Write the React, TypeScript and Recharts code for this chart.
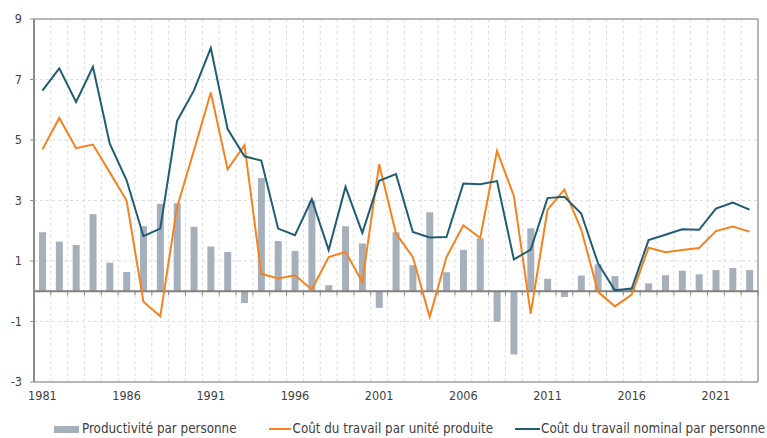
import {
  Bar,
  ComposedChart,
  CartesianGrid,
  Legend,
  Line,
  ReferenceLine,
  XAxis,
  YAxis,
} from 'recharts'

const years = [
  1981, 1982, 1983, 1984, 1985, 1986, 1987, 1988, 1989, 1990,
  1991, 1992, 1993, 1994, 1995, 1996, 1997, 1998, 1999, 2000,
  2001, 2002, 2003, 2004, 2005, 2006, 2007, 2008, 2009, 2010,
  2011, 2012, 2013, 2014, 2015, 2016, 2017, 2018, 2019, 2020,
  2021, 2022, 2023,
]

// Productivité par personne
const productivite = [
  1.95, 1.64, 1.53, 2.55, 0.94, 0.64, 2.15, 2.89, 2.91, 2.13,
  1.48, 1.3, -0.39, 3.74, 1.66, 1.33, 3.0, 0.2, 2.15, 1.58,
  -0.55, 1.95, 0.86, 2.61, 0.63, 1.37, 1.75, -1.01, -2.09, 2.08,
  0.41, -0.19, 0.52, 0.89, 0.5, 0.12, 0.26, 0.53, 0.68, 0.56,
  0.7, 0.77, 0.7,
]

// Coût du travail par unité produite
const coutUnitaire = [
  4.69, 5.73, 4.73, 4.85, 3.93, 3.0, -0.35, -0.83, 2.79, 4.65,
  6.57, 4.03, 4.83, 0.58, 0.42, 0.53, 0.06, 1.13, 1.3, 0.31,
  4.2, 1.91, 1.13, -0.85, 1.13, 2.18, 1.76, 4.64, 3.15, -0.74,
  2.7, 3.36, 2.04, -0.02, -0.5, -0.11, 1.44, 1.29, 1.36, 1.43,
  1.99, 2.14, 1.97,
]

// Coût du travail nominal par personne
const coutNominal = [
  6.63, 7.37, 6.26, 7.42, 4.88, 3.67, 1.82, 2.07, 5.63, 6.64,
  8.04, 5.36, 4.46, 4.32, 2.07, 1.85, 3.04, 1.36, 3.45, 1.93,
  3.65, 3.87, 1.96, 1.78, 1.79, 3.56, 3.54, 3.64, 1.05, 1.38,
  3.08, 3.12, 2.57, 0.92, 0.03, 0.09, 1.69, 1.87, 2.05, 2.03,
  2.73, 2.93, 2.7,
]

const yTicks = [-3, -1, 1, 3, 5, 7, 9]
const xTicks = [1981, 1986, 1991, 1996, 2001, 2006, 2011, 2016, 2021]

const data = years.map((year, i) => ({
  year,
  productivite: productivite[i],
  coutUnitaire: coutUnitaire[i],
  coutNominal: coutNominal[i],
}))

// limits between years, used for the dashed vertical grid and zero-line ticks
const boundaries = [years[0] - 0.5, ...years.map((y) => y + 0.5)]

const FONT = '"DejaVu Sans Condensed", "DejaVu Sans", sans-serif'
const BAR_COLOR = '#a6b0bd'
const ORANGE = '#f5821f'
const TEAL = '#1f5d73'
const GRID = '#dcdcdc'

function ChartLegend() {
  const item = (swatch: React.ReactNode, label: string, gap: number, after: number) => (
    <div style={{ display: 'flex', alignItems: 'center', marginRight: after }}>
      {swatch}
      <span style={{ marginLeft: gap }}>{label}</span>
    </div>
  )
  return (
    <div
      style={{
        height: 34,
        paddingTop: 20,
        paddingLeft: 54,
        boxSizing: 'border-box',
        display: 'flex',
        fontFamily: FONT,
        fontSize: 13.3,
        lineHeight: '16px',
        color: '#404040',
        whiteSpace: 'nowrap',
      }}
    >
      {item(<div style={{ width: 25, height: 7, background: BAR_COLOR }} />, 'Productivité par personne', 3, 32)}
      {item(<div style={{ width: 22, height: 2, background: ORANGE }} />, 'Coût du travail par unité produite', 2, 22)}
      {item(<div style={{ width: 25, height: 2, background: TEAL }} />, 'Coût du travail nominal par personne', 1, 0)}
    </div>
  )
}

export default function App() {
  return (
    <div style={{ position: 'absolute', left: 0, top: 0 }}>
      <ComposedChart
        width={767}
        height={438}
        data={data}
        margin={{ top: 19, right: 9, left: 0, bottom: 2 }}
      >
        <CartesianGrid vertical={false} stroke={GRID} strokeDasharray="3 3" />
        {boundaries.map((b) => (
          <ReferenceLine key={`g${b}`} x={b} stroke={GRID} strokeDasharray="3 3" />
        ))}
        <XAxis
          dataKey="year"
          type="number"
          domain={[years[0] - 0.5, years[years.length - 1] + 0.5]}
          ticks={xTicks}
          allowDataOverflow
          height={20}
          tickLine={false}
          tickSize={0}
          tickMargin={9}
          axisLine={{ stroke: '#a0a0a0', strokeWidth: 1.5 }}
          tick={{ fill: '#404040', fontSize: 12.5, fontFamily: FONT }}
        />
        <YAxis
          type="number"
          domain={[-3, 9]}
          ticks={yTicks}
          width={34}
          tickSize={4}
          tickMargin={8}
          axisLine={{ stroke: '#8c8c8c', strokeWidth: 2 }}
          tickLine={{ stroke: '#8c8c8c' }}
          tick={{ fill: '#404040', fontSize: 12.5, fontFamily: FONT }}
        />
        <ReferenceLine y={9} stroke="#a0a0a0" strokeWidth={1.5} />
        <ReferenceLine x={years[years.length - 1] + 0.5} stroke="#a0a0a0" strokeWidth={1.5} />
        <Bar
          dataKey="productivite"
          name="Productivité par personne"
          fill={BAR_COLOR}
          barSize={7}
          isAnimationActive={false}
        />
        <ReferenceLine y={0} stroke="#808080" strokeWidth={2} />
        {boundaries.map((b) => (
          <ReferenceLine
            key={`t${b}`}
            segment={[
              { x: b, y: 0 },
              { x: b, y: -0.13 },
            ]}
            stroke="#808080"
          />
        ))}
        <Line
          dataKey="coutUnitaire"
          name="Coût du travail par unité produite"
          stroke={ORANGE}
          strokeWidth={2}
          dot={false}
          isAnimationActive={false}
        />
        <Line
          dataKey="coutNominal"
          name="Coût du travail nominal par personne"
          stroke={TEAL}
          strokeWidth={2}
          dot={false}
          isAnimationActive={false}
        />
        <Legend verticalAlign="bottom" content={() => <ChartLegend />} />
      </ComposedChart>
    </div>
  )
}
